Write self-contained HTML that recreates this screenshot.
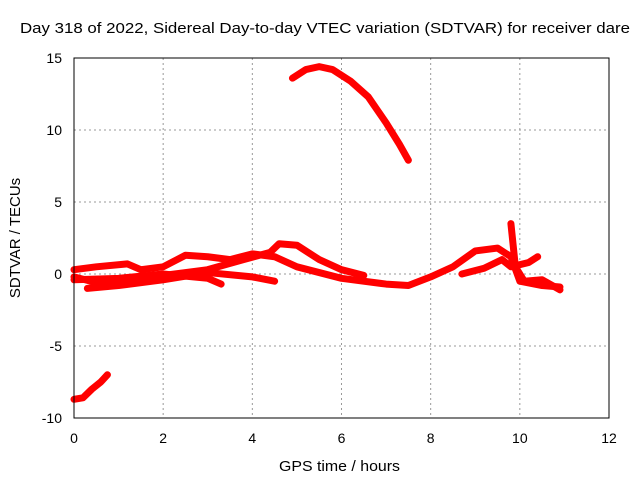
<!DOCTYPE html>
<html><head><meta charset="utf-8"><style>
body{margin:0;background:#fff}
svg text{font-family:"Liberation Sans",sans-serif;font-size:14px;fill:#000}
</style></head><body>
<svg width="640" height="480">
<g id="grid"></g>
<g id="series"></g>
<rect x="74" y="58" width="535" height="360" fill="none" stroke="#000"/>
<g id="ticks"></g>
<text x="20" y="33" textLength="610" lengthAdjust="spacingAndGlyphs" style="font-size:15px">Day 318 of 2022, Sidereal Day-to-day VTEC variation (SDTVAR) for receiver dare</text>
<text x="279" y="471" textLength="121" lengthAdjust="spacingAndGlyphs" style="font-size:15px">GPS time / hours</text>
<text transform="translate(20,238) rotate(-90)" text-anchor="middle" style="font-size:15px">SDTVAR / TECUs</text>
</svg>
<script>
const xTicks=[0,2,4,6,8,10,12];
const yTicks=[-10,-5,0,5,10,15];
const seriesA=[[4.9,13.6],[5.2,14.2],[5.5,14.4],[5.8,14.2],[6.2,13.4],[6.6,12.3],[7.0,10.5],[7.3,9.0],[7.5,7.9]];
const seriesB=[[0,-8.7],[0.2,-8.6],[0.4,-8.0],[0.6,-7.5],[0.75,-7.0]];
const seriesC=[[0,0.3],[0.5,0.5],[1.2,0.7],[1.5,0.3],[2.0,0.5],[2.5,1.3],[3.0,1.2],[3.5,1.0],[4.0,1.4],[4.5,1.2],[5.0,0.5],[5.5,0.1],[6.0,-0.3],[7.0,-0.7],[7.5,-0.8],[8.0,-0.2],[8.5,0.5],[9.0,1.6],[9.5,1.8],[9.8,1.2],[10.0,-0.5],[10.5,-0.8],[10.9,-0.9]];
const seriesD=[[0,-0.2],[0.5,-0.6],[1,-0.5],[2,-0.1],[3,0.3],[3.8,1.0],[4.4,1.5],[4.6,2.1],[5.0,2.0],[5.5,1.0],[6.0,0.3],[6.5,-0.1]];
const seriesE=[[0,-0.4],[1,-0.3],[2,0.0],[3,-0.3],[3.3,-0.7]];
const seriesF=[[0.3,-1.0],[1,-0.8],[2,-0.4],[3,0.1],[4,-0.2],[4.5,-0.5]];
const seriesG=[[8.7,0.0],[9.2,0.4],[9.6,1.0],[9.8,0.5],[10.2,0.8],[10.4,1.2]];
const seriesH=[[9.8,3.5],[9.85,2.0],[9.9,0.5],[10.1,-0.5],[10.5,-0.4],[10.9,-1.1]];
const allSeries=[seriesA,seriesB,seriesC,seriesD,seriesE,seriesF,seriesG,seriesH];
const ns="http://www.w3.org/2000/svg";
const X=v=>74+v*535/12, Y=v=>274-v*14.4;
const grid=document.getElementById('grid'),ticks=document.getElementById('ticks'),ser=document.getElementById('series');
function mk(tag,attrs,parent){const e=document.createElementNS(ns,tag);for(const k in attrs)e.setAttribute(k,attrs[k]);parent.appendChild(e);return e;}
xTicks.forEach(t=>{
 if(t>0&&t<12){const l=mk('line',{x1:X(t),x2:X(t),y1:58,y2:418,stroke:'#999','stroke-dasharray':'2,3'},grid);
 
 }
 const tx=mk('text',{x:X(t),y:443,'text-anchor':'middle'},ticks);tx.textContent=t;
 
 
});
yTicks.forEach(t=>{
 if(t>-10&&t<15){const l=mk('line',{x1:74,x2:609,y1:Y(t),y2:Y(t),stroke:'#999','stroke-dasharray':'2,3'},grid);
 
 }
 const tx=mk('text',{x:62,y:Y(t)+5,'text-anchor':'end'},ticks);tx.textContent=t;
 
 
});
allSeries.forEach((s,i)=>{
 const p=mk('polyline',{points:s.map(d=>X(d[0])+','+Y(d[1])).join(' '),fill:'none',stroke:'#f00','stroke-width':7,'stroke-linejoin':'round','stroke-linecap':'round'},ser);
 
 
});
</script>
</body></html>
